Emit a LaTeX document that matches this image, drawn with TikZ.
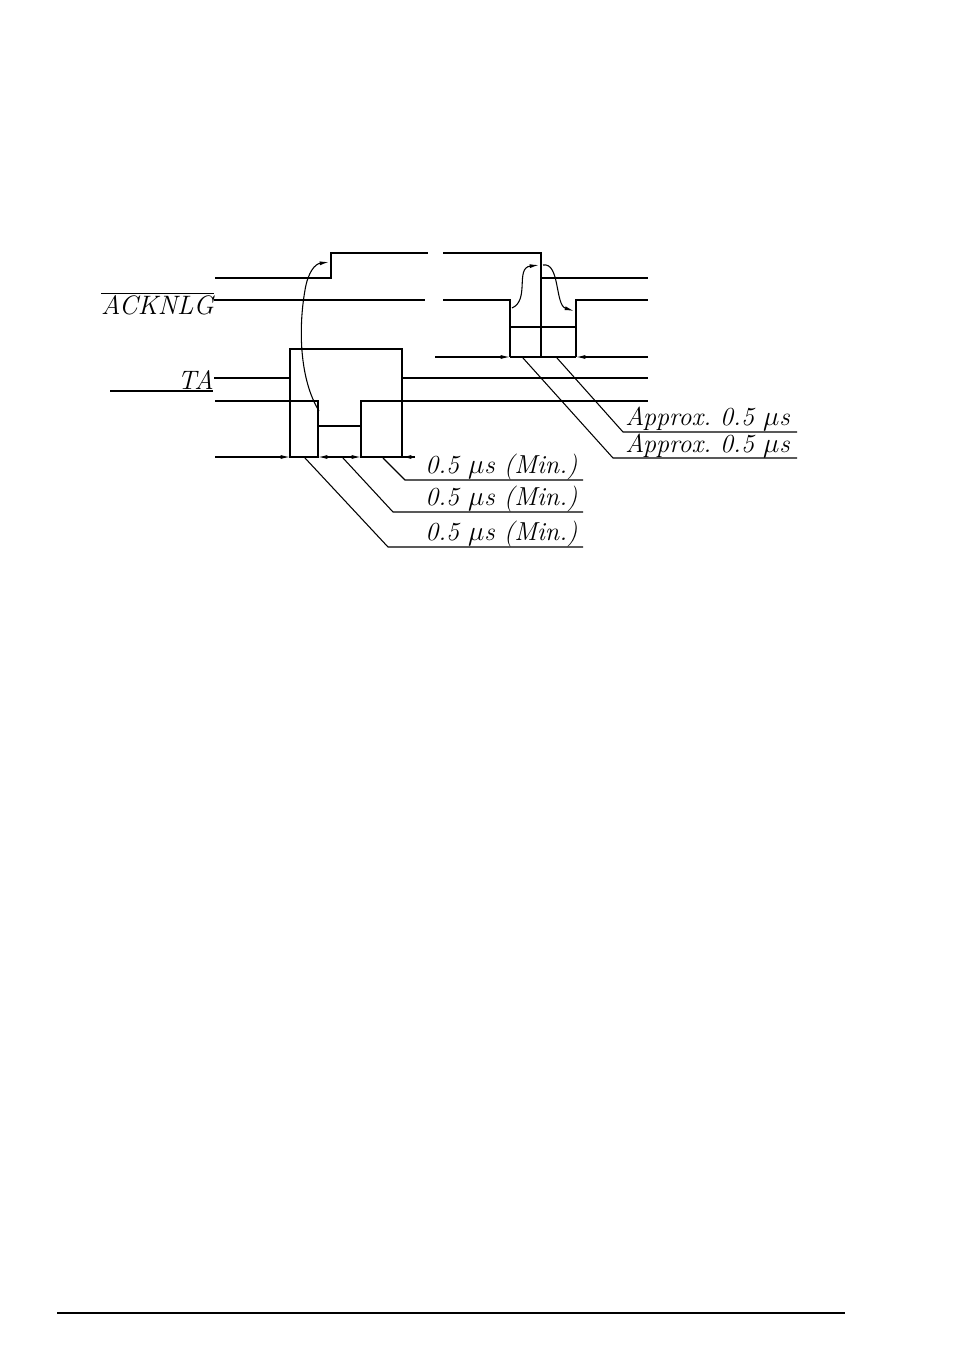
\documentclass[tikz,border=0pt]{standalone}
\usetikzlibrary{arrows.meta}
\begin{document}
\begin{tikzpicture}[x=0.75pt,y=-0.75pt,
  sig/.style={line width=1.4pt},
  thin/.style={line width=0.8pt},
  dimarr/.style={line width=0.8pt,-{Latex[length=7pt,width=3pt]}},
  lbl/.style={font=\fontsize{19.5}{22}\selectfont\itshape,inner sep=0pt,anchor=base west}]
\useasboundingbox (0,0) rectangle (954,1367);
% top signal
\draw[sig] (215,278) -- (331,278) -- (331,253) -- (428,253);
\draw[sig] (443,253) -- (541,253) -- (541,278) -- (648,278);
% ACKNLG
\node[lbl,anchor=east,font=\fontsize{20}{22}\selectfont\itshape,yshift=-3pt] (ack) at (214,300) {$\overline{\mbox{\itshape ACKNLG}}$};
\draw[sig] (ack.east |- 0,300) -- (425,300);
\draw[sig] (443,300) -- (510,300) -- (510,327) -- (576,327) -- (576,300) -- (648,300);
% TA
\node[lbl,anchor=east,font=\fontsize{20}{22}\selectfont\itshape] (ta) at (214,380) {TA};
\draw[sig] (ta.east |- 0,378) -- (290,378) -- (290,349) -- (402,349) -- (402,378) -- (648,378);
\draw[sig] (110,391) -- (213,391);
% strobe
\draw[sig] (215,401) -- (318,401) -- (318,426) -- (361,426) -- (361,401) -- (648,401);
% verticals
\draw[thin] (290,378) -- (290,458);
\draw[thin] (318,426) -- (318,458);
\draw[thin] (361,426) -- (361,458);
\draw[thin] (402,378) -- (402,458);
\draw[thin] (541,278) -- (541,357);
\draw[thin] (510,327) -- (510,357);
\draw[thin] (576,327) -- (576,357);
% dimension lines
\coordinate (a1) at (215,457); \coordinate (a2) at (290,457);
\draw[dimarr] (a1) -- (a2);
\draw[thin] (290,457) -- (318,457);
\coordinate (b1) at (345,457); \coordinate (b2) at (318,457);
\draw[dimarr] (b1) -- (b2);
\coordinate (c1) at (335,457); \coordinate (c2) at (361,457);
\draw[dimarr] (c1) -- (c2);
\coordinate (d1) at (415,457); \coordinate (d2) at (402,457);
\draw[thin] (361,457) -- (d1);
\draw[dimarr] (d1) -- (d2);
\coordinate (e1) at (435,357); \coordinate (e2) at (510,357);
\draw[dimarr] (e1) -- (e2);
\draw[thin] (510,357) -- (576,357);
\coordinate (f1) at (648,357); \coordinate (f2) at (576,357);
\draw[dimarr] (f1) -- (f2);
% leaders left
\draw[thin] (383,458) -- (405,480) -- (583,480);
\draw[thin] (343,458) -- (393,512) -- (583,512);
\draw[thin] (305,458) -- (388,547) -- (583,547);
\node[lbl] (t1) at (425,473) {0.5 $\mu$s (Min.)};
\node[lbl] (t2) at (425,505) {0.5 $\mu$s (Min.)};
\node[lbl] (t3) at (425,540) {0.5 $\mu$s (Min.)};
% leaders right
\draw[thin] (557,358) -- (623,432) -- (797,432);
\draw[thin] (523,358) -- (613,458) -- (797,458);
\node[lbl] (r1) at (625,425) {Approx.\ 0.5 $\mu$s};
\node[lbl] (r2) at (625,452) {Approx.\ 0.5 $\mu$s};
% causal curves
\draw[thin,-{Latex[length=7pt,width=3pt]}] (319,411) .. controls (300,380) and (298,330) .. (305,290) .. controls (308,272) and (315,264) .. (329,262);
\draw[thin,-{Latex[length=7pt,width=3pt]}] (512,308) .. controls (530,300) and (515,268) .. (539,265);
\draw[thin,-{Latex[length=7pt,width=3pt]}] (543,265) .. controls (560,262) and (555,305) .. (574,311);
% bottom rule
\draw[line width=0.8pt] (57,1313) -- (845,1313);
\end{tikzpicture}
\end{document}
